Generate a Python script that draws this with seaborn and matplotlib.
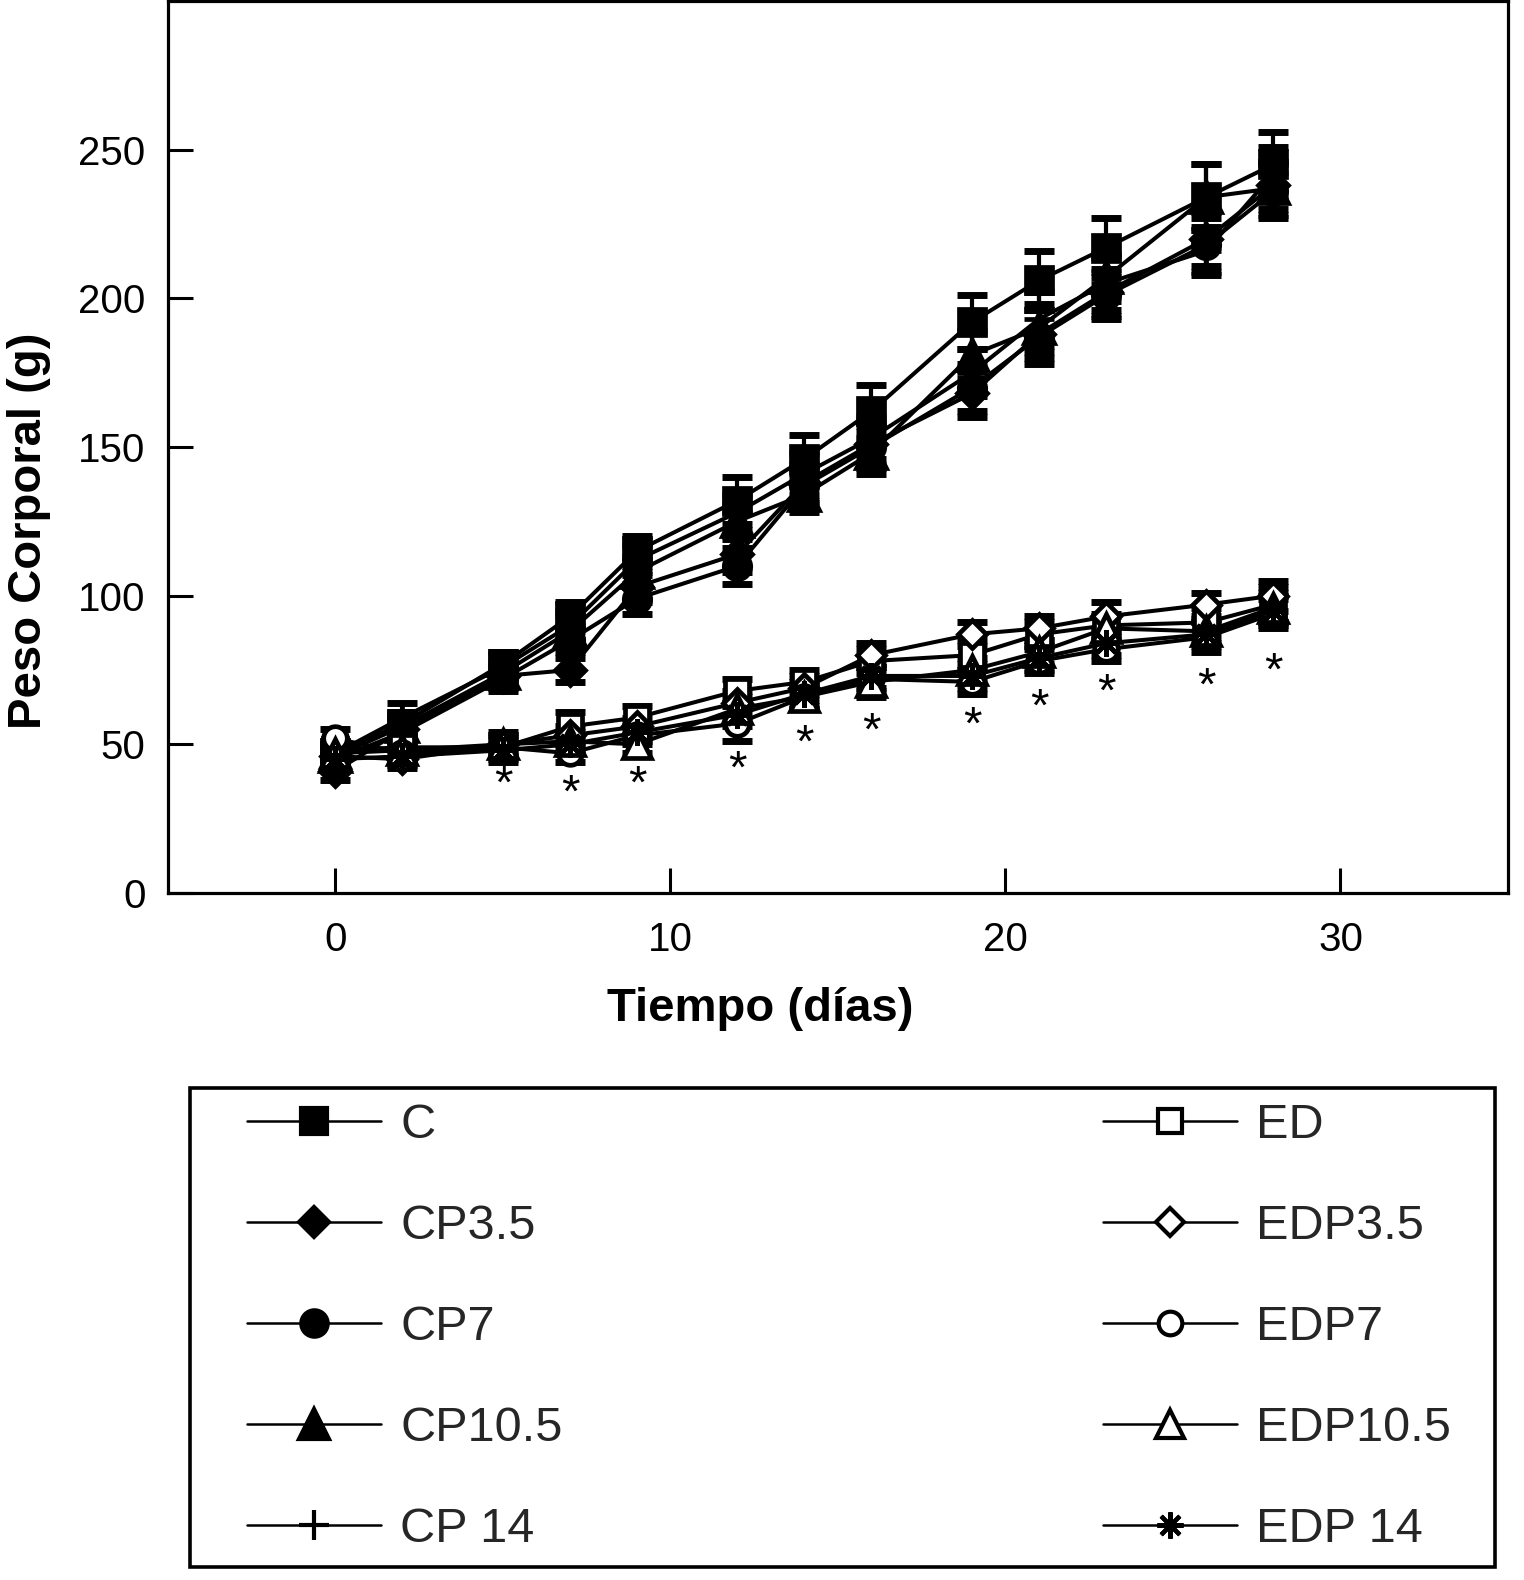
import seaborn as sns
import matplotlib.pyplot as plt
from matplotlib.lines import Line2D
from matplotlib.patches import Rectangle

# Datos: peso corporal (g) frente a tiempo (días)
dias = [0, 2, 5, 7, 9, 12, 14, 16, 19, 21, 23, 26, 28]

grupos = ["C", "CP3.5", "CP7", "CP10.5", "CP 14",
          "ED", "EDP3.5", "EDP7", "EDP10.5", "EDP 14"]

peso_c = [47, 57, 77, 93, 115, 132, 146, 162, 192, 206, 217, 234, 245]
peso_cp35 = [41, 55, 73, 75, 103, 114, 138, 151, 168, 188, 202, 220, 238]
peso_cp7 = [45, 54, 72, 85, 99, 110, 137, 150, 170, 187, 201, 218, 236]
peso_cp105 = [46, 56, 74, 88, 108, 125, 134, 148, 181, 190, 207, 234, 237]
peso_cp14 = [47, 59, 76, 90, 112, 128, 141, 153, 175, 193, 205, 216, 242]

peso_ed = [48, 49, 49, 56, 59, 68, 71, 78, 80, 87, 90, 91, 97]
peso_edp35 = [46, 45, 50, 53, 56, 64, 69, 80, 87, 89, 93, 97, 100]
peso_edp7 = [52, 47, 49, 47, 53, 57, 66, 72, 71, 78, 82, 86, 94]
peso_edp105 = [47, 48, 50, 51, 50, 62, 66, 71, 75, 81, 89, 88, 96]
peso_edp14 = [45, 46, 48, 50, 54, 60, 67, 73, 73, 79, 84, 87, 95]

err_c = [3, 4, 4, 5, 5, 8, 8, 9, 9, 10, 10, 11, 11]
err_cp35 = [3, 4, 4, 4, 5, 6, 6, 7, 8, 8, 8, 9, 8]
err_cp7 = [3, 4, 4, 4, 5, 6, 6, 7, 8, 9, 8, 9, 9]
err_cp105 = [3, 4, 4, 5, 5, 6, 6, 7, 8, 8, 8, 11, 9]
err_cp14 = [3, 5, 4, 5, 5, 6, 7, 7, 8, 9, 9, 8, 9]

err_ed = [3, 3, 5, 5, 4, 4, 4, 4, 5, 4, 4, 5, 6]
err_edp35 = [3, 3, 3, 3, 3, 4, 4, 4, 4, 4, 5, 4, 5]
err_edp7 = [3, 3, 3, 3, 3, 6, 4, 4, 4, 4, 4, 5, 5]
err_edp105 = [3, 3, 3, 3, 3, 4, 4, 5, 4, 4, 4, 4, 5]
err_edp14 = [3, 3, 3, 3, 3, 4, 4, 4, 4, 4, 4, 4, 5]

pesos = [peso_c, peso_cp35, peso_cp7, peso_cp105, peso_cp14,
         peso_ed, peso_edp35, peso_edp7, peso_edp105, peso_edp14]
errores = [err_c, err_cp35, err_cp7, err_cp105, err_cp14,
           err_ed, err_edp35, err_edp7, err_edp105, err_edp14]

# días con diferencia significativa (*) y altura del asterisco (g)
sig_dias = [5, 7, 9, 12, 14, 16, 19, 21, 23, 26, 28]
sig_y = [36, 33, 36, 41, 50, 54, 56, 62, 67, 69, 74]

# estilos de marcador por grupo
estilos = {
    "C": dict(marker="s", markersize=19, markerfacecolor="black"),
    "CP3.5": dict(marker="D", markersize=15, markerfacecolor="black"),
    "CP7": dict(marker="o", markersize=19, markerfacecolor="black"),
    "CP10.5": dict(marker="^", markersize=22, markerfacecolor="black"),
    "CP 14": dict(marker="+", markersize=21, markerfacecolor="black"),
    "ED": dict(marker="s", markersize=17, markerfacecolor="white"),
    "EDP3.5": dict(marker="D", markersize=14, markerfacecolor="white"),
    "EDP7": dict(marker="o", markersize=17, markerfacecolor="white"),
    "EDP10.5": dict(marker="^", markersize=20, markerfacecolor="white"),
    "EDP 14": dict(marker=(8, 2, 0), markersize=19, markerfacecolor="black"),
}

sns.set_theme(style="ticks")
plt.rcParams["font.family"] = ["Liberation Sans", "DejaVu Sans"]

fig = plt.figure(figsize=(15.24, 15.8), dpi=100)
ax = fig.add_axes([0.1102, 0.4348, 0.8793, 0.5646])

for i, (g, vals, err) in enumerate(zip(grupos, pesos, errores)):
    ax.errorbar(dias, vals, yerr=err, fmt="none", ecolor="black",
                elinewidth=3.0, capsize=11, capthick=5, zorder=1 + i * 0.01)

for i, (g, vals) in enumerate(zip(grupos, pesos)):
    sns.lineplot(x=dias, y=vals, ax=ax, color="black", linewidth=2.9,
                 markeredgecolor="black", markeredgewidth=3.4,
                 legend=False, zorder=3 + i * 0.1, **estilos[g])

for d, y in zip(sig_dias, sig_y):
    ax.text(d, y, "*", ha="center", va="center", fontsize=34, color="black")

ax.set_xlim(-5, 35)
ax.set_ylim(0, 300)
ax.set_xticks([0, 10, 20, 30])
ax.set_yticks([0, 50, 100, 150, 200, 250])
ax.tick_params(direction="in", length=18, width=2.2, labelsize=29,
               color="black", labelcolor="black", pad=16)
ax.tick_params(axis="x", pad=20)
for s in ax.spines.values():
    s.set_visible(True)
    s.set_linewidth(2.3)
    s.set_color("black")

ax.set_xlabel("Tiempo (días)", fontsize=34, fontweight="bold", color="black")
ax.set_ylabel("Peso Corporal (g)", fontsize=34, fontweight="bold", color="black")
ax.xaxis.set_label_coords(0.442, -0.105)
ax.yaxis.set_label_coords(-0.087, 0.406)

# leyenda en dos columnas dentro de un recuadro
handles = [Line2D([], [], color="black", linewidth=1.8,
                  markeredgecolor="black", markeredgewidth=3.0,
                  label=g, **estilos[g]) for g in grupos]
fig.add_artist(Rectangle((0.1247, 0.0082), 0.8563, 0.3032,
                         transform=fig.transFigure, fill=False,
                         linewidth=2.6, edgecolor="black"))
fig.legend(handles=handles, loc="center", ncol=2, mode="expand",
           bbox_to_anchor=(0.162, 0.0082, 0.790, 0.3032),
           frameon=False, fontsize=35, handlelength=2.75,
           handletextpad=0.4, labelspacing=1.15, borderpad=0,
           borderaxespad=0)

fig.savefig("out.png", dpi=100)
